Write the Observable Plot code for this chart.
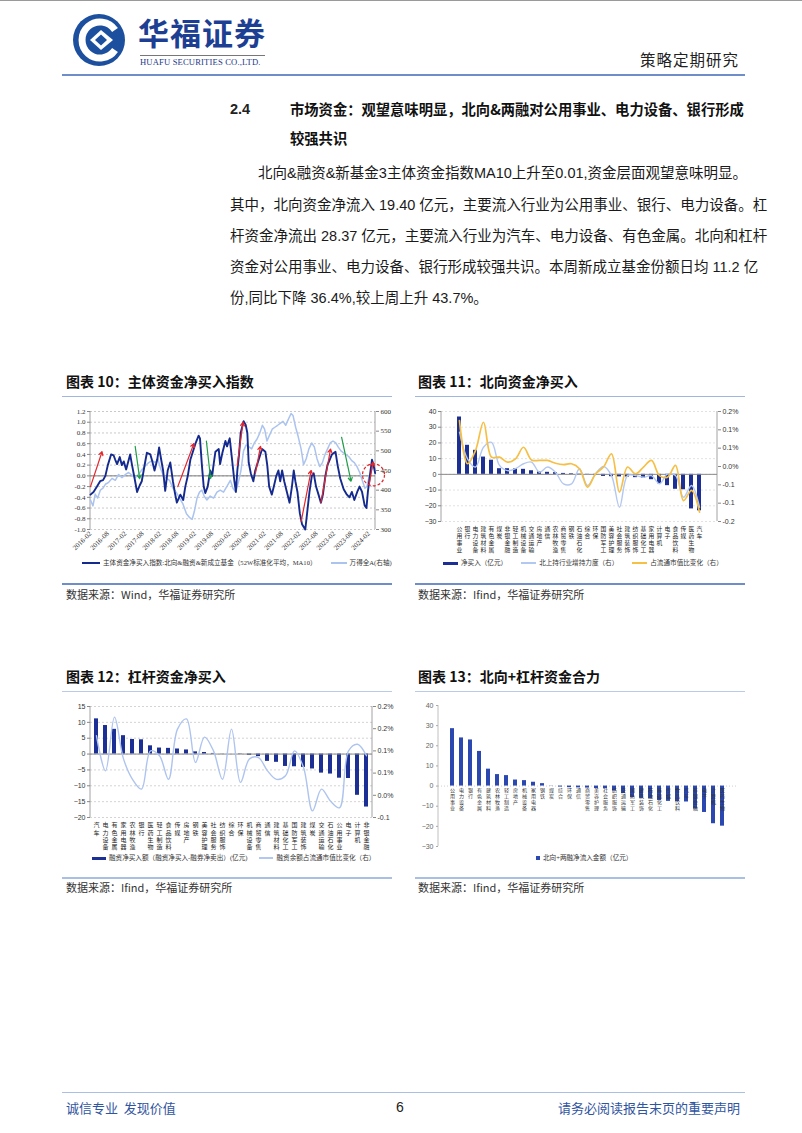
<!DOCTYPE html>
<html><head><meta charset="utf-8">
<script src="https://cdn.jsdelivr.net/npm/d3@7"></script>
<script src="https://cdn.jsdelivr.net/npm/@observablehq/plot@0.6"></script>
<style>
body{margin:0;background:#fff;}
#page{position:relative;width:802px;height:1133px;overflow:hidden;font-family:"Noto Sans CJK SC",sans-serif;color:#222;background:#fff;}
.a{position:absolute;white-space:nowrap;}
.rule{position:absolute;}
.just{position:absolute;text-align:justify;text-align-last:justify;white-space:nowrap;}
.body{font-family:"Liberation Sans Narrow","Liberation Sans","Noto Sans CJK SC",sans-serif;font-size:14.5px;line-height:20px;color:#1a1a1a;}
.ttl{font-size:14px;font-weight:700;line-height:18px;color:#111;}
.src{font-size:11px;line-height:14px;color:#333;}
.lg{font-family:"Liberation Serif","Noto Sans CJK SC",serif;font-size:6.6px;line-height:10px;color:#333;display:flex;align-items:center;}
.sw{display:inline-block;margin-right:3px;}
</style></head>
<body><div id="page">
<div class="rule" style="left:0;top:0;width:802px;height:1px;background:#9a9a9a"></div>
<svg class="a" style="left:68px;top:13px" width="62" height="54" viewBox="0 0 62 54">
  <circle cx="31" cy="27" r="26" fill="#1d4f9f"/>
  <path d="M47 17 A18 18 0 1 0 47 37" stroke="#fff" stroke-width="7" fill="none"/>
  <path d="M22 27 L33 17 L45 27 L33 37 Z" fill="#fff"/>
  <path d="M27 27 L33 21.5 L39 27 L33 32.5 Z" fill="#1d4f9f"/>
</svg>
<div class="a" style="left:138px;top:12px;font-size:31px;font-weight:700;color:#1d3f93;letter-spacing:1px;line-height:40px">华福证券</div>
<div class="rule" style="left:140px;top:55px;width:125px;height:1px;background:#777"></div>
<div class="a" style="left:140px;top:57px;font-family:'Liberation Serif',serif;font-size:8.6px;color:#23388a;line-height:10px;letter-spacing:0.15px">HUAFU SECURITIES CO.,LTD.</div>
<div class="a" style="left:640px;top:49px;font-size:15.5px;color:#222;letter-spacing:1px;line-height:20px">策略定期研究</div>
<div class="rule" style="left:62px;top:74px;width:683px;height:2px;background:#6f8dc8"></div>

<div class="a" style="left:230px;top:99px;font-family:'Liberation Sans',sans-serif;font-weight:700;font-size:14.5px;line-height:20px">2.4</div>
<div class="just ttl" style="left:290px;top:99px;width:446px;font-size:14.3px;line-height:20px">市场资金：观望意味明显，北向&amp;两融对公用事业、电力设备、银行形成</div>
<div class="a ttl" style="left:290px;top:128px;font-size:14.3px;line-height:20px">较强共识</div>

<div class="just body" style="left:258px;top:163px;width:479px">北向&amp;融资&amp;新基金3主体资金指数MA10上升至0.01,资金层面观望意味明显。</div>
<div class="just body" style="left:230px;top:195px;width:507px">其中，北向资金净流入 19.40 亿元，主要流入行业为公用事业、银行、电力设备。杠</div>
<div class="just body" style="left:230px;top:226px;width:507px">杆资金净流出 28.37 亿元，主要流入行业为汽车、电力设备、有色金属。北向和杠杆</div>
<div class="just body" style="left:230px;top:257px;width:507px">资金对公用事业、电力设备、银行形成较强共识。本周新成立基金份额日均 11.2 亿</div>
<div class="a body" style="left:230px;top:288px">份,同比下降 36.4%,较上周上升 43.7%。</div>

<div class="a ttl" style="left:66px;top:372px">图表 10：主体资金净买入指数</div>
<div class="a ttl" style="left:418px;top:372px">图表 11：北向资金净买入</div>
<div class="rule" style="left:62px;top:396px;width:330px;height:1px;background:#9fb6de"></div>
<div class="rule" style="left:415px;top:396px;width:330px;height:1px;background:#9fb6de"></div>
<div id="c10" class="a" style="left:60px;top:402px"></div>
<div id="c11" class="a" style="left:415px;top:402px"></div>
<div class="a lg" style="left:82px;top:558px"><span class="sw" style="width:18px;height:2px;background:#142a8e"></span>主体资金净买入指数:北向&amp;融资&amp;新成立基金（52W标准化平均，MA10）<span class="sw" style="width:16px;height:1.5px;background:#abc3ef;margin-left:14px"></span>万得全A(右轴)</div>
<div class="a lg" style="left:443px;top:558px"><span class="sw" style="width:15px;height:3px;background:#1b2f95"></span>净买入（亿元）<span class="sw" style="width:15px;height:1.5px;background:#b3c8f0;margin-left:14px"></span>北上持行业增持力度（右）<span class="sw" style="width:15px;height:2px;background:#f6bf45;margin-left:14px"></span>占流通市值比变化（右）</div>
<div class="rule" style="left:62px;top:583px;width:330px;height:1.5px;background:#6f8dc8"></div>
<div class="rule" style="left:415px;top:583px;width:330px;height:1.5px;background:#6f8dc8"></div>
<div class="a src" style="left:66px;top:587px">数据来源：Wind，华福证券研究所</div>
<div class="a src" style="left:418px;top:587px">数据来源：Ifind，华福证券研究所</div>

<div class="a ttl" style="left:66px;top:667px">图表 12：杠杆资金净买入</div>
<div class="a ttl" style="left:418px;top:667px">图表 13：北向+杠杆资金合力</div>
<div class="rule" style="left:62px;top:691px;width:330px;height:1px;background:#b9cbe8"></div>
<div class="rule" style="left:415px;top:691px;width:330px;height:1px;background:#b9cbe8"></div>
<div id="c12" class="a" style="left:60px;top:697px"></div>
<div id="c13" class="a" style="left:415px;top:697px"></div>
<div class="a lg" style="left:92px;top:853px"><span class="sw" style="width:14px;height:3px;background:#1b2f95"></span>融资净买入额（融资净买入-融券净卖出）(亿元)<span class="sw" style="width:14px;height:1.5px;background:#b3c8f0;margin-left:12px"></span>融资余额占流通市值比变化（右）</div>
<div class="a lg" style="left:536px;top:853px"><span class="sw" style="width:4px;height:4px;background:#2b47b0"></span>北向+两融净流入金额（亿元）</div>
<div class="rule" style="left:62px;top:877px;width:330px;height:1.5px;background:#a9bfe3"></div>
<div class="rule" style="left:415px;top:877px;width:330px;height:1.5px;background:#a9bfe3"></div>
<div class="a src" style="left:66px;top:880px">数据来源：Ifind，华福证券研究所</div>
<div class="a src" style="left:418px;top:880px">数据来源：Ifind，华福证券研究所</div>

<div class="rule" style="left:62px;top:1092px;width:683px;height:1px;background:#a9bfe3"></div>
<div class="a" style="left:66px;top:1100px;font-size:13px;color:#2f54a0;line-height:16px">诚信专业&nbsp;&nbsp;发现价值</div>
<div class="a" style="left:396px;top:1099px;font-size:14px;color:#222;line-height:17px;font-family:'Liberation Sans',sans-serif">6</div>
<div class="a" style="right:62px;top:1100px;font-size:13px;color:#2f54a0;line-height:16px">请务必阅读报告末页的重要声明</div>
</div>
<script>
// ---------- Chart 10 data ----------
const mainIndex10 = [
["2016-02-01",-0.35],["2016-03-04",-0.30],["2016-04-09",-0.20],["2016-05-12",-0.10],["2016-06-12",-0.08],
["2016-07-06",0.00],["2016-08-01",0.20],["2016-09-04",0.40],["2016-10-01",0.38],["2016-10-18",0.30],
["2016-11-06",0.22],["2016-12-04",0.35],["2016-12-26",0.20],["2017-01-15",0.27],["2017-02-09",0.12],
["2017-03-23",0.40],["2017-04-12",0.20],["2017-05-09",-0.05],["2017-06-04",-0.30],["2017-07-01",-0.18],
["2017-07-23",-0.10],["2017-08-12",0.10],["2017-09-01",0.30],["2017-09-15",0.43],["2017-10-21",0.40],
["2017-11-09",0.28],["2017-12-04",0.10],["2018-01-01",0.30],["2018-01-21",0.53],["2018-02-12",0.30],
["2018-03-04",0.10],["2018-03-26",-0.28],["2018-04-21",0.10],["2018-05-18",0.25],["2018-06-15",-0.10],
["2018-07-04",-0.30],["2018-07-26",-0.50],["2018-09-01",-0.35],["2018-10-01",-0.45],["2018-10-23",-0.20],
["2018-11-18",0.00],["2018-12-15",0.30],["2019-02-06",0.60],["2019-03-12",0.75],["2019-03-26",0.70],
["2019-04-15",0.20],["2019-05-04",-0.20],["2019-05-21",-0.32],["2019-06-15",-0.20],["2019-07-12",0.10],
["2019-08-01",0.00],["2019-08-15",0.20],["2019-09-04",0.45],["2019-10-09",0.50],["2019-10-23",0.22],
["2019-11-15",0.42],["2019-12-18",0.65],["2020-01-04",0.55],["2020-02-01",0.70],["2020-02-26",0.30],
["2020-03-21",-0.10],["2020-04-06",-0.30],["2020-04-21",0.10],["2020-05-09",0.40],["2020-05-26",0.80],
["2020-06-26",1.02],["2020-07-18",0.95],["2020-08-04",0.80],["2020-08-18",0.25],["2020-09-09",0.05],
["2020-10-06",-0.10],["2020-10-26",0.10],["2020-12-01",0.30],["2021-01-06",0.50],["2021-02-09",0.45],
["2021-03-01",0.20],["2021-03-21",-0.20],["2021-04-18",-0.35],["2021-05-09",-0.20],["2021-06-04",0.00],
["2021-06-26",0.10],["2021-07-15",-0.10],["2021-08-04",0.10],["2021-08-26",-0.10],["2021-09-23",-0.30],
["2021-10-21",-0.50],["2021-11-15",-0.20],["2021-12-04",0.10],["2021-12-21",-0.10],["2022-01-12",-0.30],
["2022-02-06",-0.70],["2022-03-01",-0.90],["2022-04-04",-1.00],["2022-04-23",-0.70],["2022-05-18",-0.30],
["2022-06-12",0.00],["2022-07-01",0.05],["2022-07-26",-0.20],["2022-08-21",-0.35],["2022-09-15",-0.50],
["2022-10-06",-0.35],["2022-11-01",0.00],["2022-11-23",0.20],["2023-01-09",0.40],["2023-02-15",0.45],
["2023-03-09",0.20],["2023-04-06",-0.05],["2023-05-12",-0.25],["2023-06-15",-0.35],["2023-07-12",-0.40],
["2023-08-06",-0.30],["2023-09-01",-0.45],["2023-10-01",-0.30],["2023-10-26",-0.20],["2023-11-21",-0.30],
["2023-12-18",-0.55],["2024-01-06",-0.60],["2024-01-21",-0.30],["2024-02-18",0.10],["2024-03-04",0.30],
["2024-03-21",0.20],["2024-04-06",0.05]
];
const windA10 = [
["2016-02-01",375],["2016-02-27",360],["2016-03-21",390],["2016-04-16",380],["2016-05-14",400],
["2016-06-11",405],["2016-07-06",415],["2016-08-10",420],["2016-09-14",430],["2016-10-18",425],
["2016-11-22",440],["2016-12-27",432],["2017-02-03",440],["2017-03-07",445],["2017-04-11",438],
["2017-05-15",432],["2017-06-20",440],["2017-07-24",452],["2017-08-28",462],["2017-10-04",470],
["2017-11-08",475],["2017-12-12",470],["2018-01-07",480],["2018-02-05",455],["2018-03-03",440],
["2018-04-07",430],["2018-05-11",425],["2018-06-15",405],["2018-07-19",395],["2018-08-23",380],
["2018-09-28",365],["2018-11-04",340],["2018-12-08",330],["2019-01-03",326],["2019-01-25",345],
["2019-02-23",380],["2019-03-21",395],["2019-04-15",400],["2019-05-09",385],["2019-06-07",375],
["2019-07-11",385],["2019-08-16",380],["2019-09-20",395],["2019-10-24",400],["2019-11-28",395],
["2020-01-04",410],["2020-02-08",425],["2020-03-06",405],["2020-04-04",395],["2020-05-02",420],
["2020-05-29",450],["2020-06-25",500],["2020-07-23",515],["2020-08-21",510],["2020-09-18",505],
["2020-10-16",520],["2020-11-14",530],["2020-12-12",545],["2021-01-09",565],["2021-02-01",555],
["2021-02-26",525],["2021-03-25",540],["2021-04-22",555],["2021-05-20",560],["2021-06-18",565],
["2021-07-15",570],["2021-08-13",575],["2021-09-11",565],["2021-10-08",580],["2021-11-06",595],
["2021-11-26",590],["2021-12-24",560],["2022-01-21",535],["2022-02-19",505],["2022-03-17",465],
["2022-04-14",480],["2022-05-12",505],["2022-06-10",520],["2022-07-08",510],["2022-08-05",480],
["2022-09-03",460],["2022-10-01",470],["2022-10-27",490],["2022-11-24",505],["2022-12-22",520],
["2023-01-20",525],["2023-02-18",520],["2023-03-15",510],["2023-04-13",500],["2023-05-11",495],
["2023-06-08",490],["2023-07-06",485],["2023-08-04",475],["2023-09-01",470],["2023-09-29",460],
["2023-10-27",445],["2023-11-23",425],["2023-12-21",405],["2024-01-12",410],["2024-02-03",435],
["2024-02-23",450],["2024-03-15",458],["2024-04-05",455]
];
const xRange10 = ["2016-02-01","2024-04-10"];
const xTicks10 = ["2016-02-01","2016-08-01","2017-02-01","2017-08-01","2018-02-01","2018-08-01","2019-02-01","2019-08-01","2020-02-01","2020-08-01","2021-02-01","2021-08-01","2022-02-01","2022-08-01","2023-02-01","2023-08-01","2024-02-01"];
const leftTicks10 = [-1.0,-0.8,-0.6,-0.4,-0.2,0,0.2,0.4,0.6,0.8,1.0,1.2];
const rightTicks10 = [300,350,400,450,500,550,600];
const arrowsUp10 = [
["2016-02-01",-0.2,"2016-06-01",0.45],["2018-08-05",-0.2,"2019-01-20",0.6],["2020-04-20",0.2,"2020-06-20",1.0],
["2020-10-28",0.05,"2020-12-20",0.55],["2022-02-20",-0.85,"2022-06-05",0.1],["2022-09-15",-0.5,"2022-12-25",0.5],
["2024-02-05",-0.15,"2024-03-15",0.25]
];
const arrowsDown10 = [
["2017-05-15",0.55,"2017-07-01",-0.05],["2019-06-01",0.65,"2019-07-15",-0.05],["2023-04-20",0.72,"2023-07-28",-0.1]
];
const circle10 = [["2024-03-20",0.02]];

// ---------- Chart 11 data ----------
const cats11 = ["公用事业","银行","电力设备","建筑材料","有色金属","煤炭","非银金融","轻工制造","机械设备","交通运输","房地产","通信","农林牧渔","商贸零售","钢铁","石油石化","综合","环保","国防军工","美容护理","社会服务","建筑装饰","纺织服饰","基础化工","家用电器","计算机","电子","食品饮料","传媒","医药生物","汽车"];
const north11 = [36.5,18.5,15.3,11.0,9.0,3.6,3.6,3.5,3.2,2.3,1.5,1.3,1.1,0.6,0.4,0.2,-0.1,-0.4,-1.3,-1.5,-1.6,-1.7,-2.1,-2.5,-3.4,-6.0,-7.2,-9.5,-9.8,-22.0,-23.2];
const holdStrength11 = [0.125,0.028,-0.002,0.070,0.088,0.004,-0.015,-0.008,0.010,0.016,-0.021,-0.002,-0.021,-0.063,-0.063,-0.008,-0.069,-0.027,0.000,-0.033,-0.148,-0.033,-0.033,-0.039,-0.033,-0.063,-0.027,-0.033,-0.112,-0.069,-0.148];
const shareChange11 = [0.167,0.010,0.058,0.161,0.034,0.034,0.016,0.028,0.070,0.024,0.022,0.022,0.012,0.007,0.010,-0.008,-0.075,-0.027,-0.002,0.046,-0.093,-0.002,-0.027,-0.002,0.022,-0.033,-0.039,0.004,-0.124,-0.087,-0.166];
const leftTicks11 = [-30,-20,-10,0,10,20,30,40];
const rightTicks11 = [-0.2,-0.1333,-0.0667,0,0.0667,0.1333,0.2];
const rightLabels11 = ["-0.2","-0.1","-0.1","0.0%","0.1%","0.1%","0.2%"];

// ---------- Chart 12 data ----------
const cats12 = ["汽车","电力设备","有色金属","家用电器","农林牧渔","银行","医药生物","轻工制造","食品饮料","传媒","房地产","钢铁","美容护理","社会服务","纺织服饰","综合","环保","机械设备","商贸零售","通信","建筑材料","基础化工","国防军工","建筑装饰","煤炭","交通运输","石油石化","公用事业","电子","计算机","非银金融"];
const margin12 = [11.1,9.0,7.8,5.8,4.6,4.5,2.6,1.9,1.8,1.6,1.3,0.7,0.5,0.2,0.05,0.0,-0.1,-0.4,-0.8,-2.3,-2.6,-3.9,-4.0,-4.2,-4.7,-6.0,-6.3,-7.6,-7.7,-13.0,-16.7];
const ratio12 = [0.134,0.055,0.176,0.082,0.036,0.014,0.100,0.089,0.036,0.149,0.172,0.074,0.131,0.100,0.036,0.149,0.029,0.082,0.085,0.055,0.036,0.044,0.100,0.063,-0.035,0.014,-0.013,-0.028,0.100,0.115,0.089];
const leftTicks12 = [-20,-15,-10,-5,0,5,10,15];
const rightTicks12 = [-0.05,0,0.05,0.1,0.15,0.2];
const rightLabels12 = ["-0.1","0.0%","0.1%","0.1%","0.2%","0.2%"];

// ---------- Chart 13 data ----------
const cats13 = ["公用事业","电力设备","银行","有色金属","建筑材料","农林牧渔","轻工制造","房地产","机械设备","家用电器","钢铁","煤炭","综合","环保","通信","商贸零售","美容护理","社会服务","纺织服饰","交通运输","国防军工","建筑装饰","石油石化","基础化工","传媒","食品饮料","汽车","非银金融","电子","计算机","医药生物"];
const combined13 = [28.5,23.9,22.9,17.2,8.4,5.7,5.2,3.0,2.7,1.9,1.2,-0.1,-0.5,-0.8,-0.9,-1.0,-1.2,-1.3,-2.5,-3.7,-5.7,-6.1,-6.3,-7.2,-7.6,-7.7,-7.9,-11.4,-13.1,-18.7,-19.9];
const leftTicks13 = [-30,-20,-10,0,10,20,30,40];

// ---------- helpers ----------
const SERIF = "'Liberation Serif','Noto Sans CJK SC',serif";
const SANS = "'Liberation Sans','Noto Sans CJK SC',sans-serif";
const CJK = "'Noto Sans CJK SC',sans-serif";
function sideLines(sides, color) {
  return (index, scales, values, dims) => {
    const g = d3.create("svg:g");
    for (const s of sides) {
      const x = s === "left" ? dims.marginLeft : dims.width - dims.marginRight;
      g.append("line").attr("x1", x).attr("x2", x)
        .attr("y1", dims.marginTop).attr("y2", dims.height - dims.marginBottom)
        .attr("stroke", color).attr("stroke-width", 0.8);
    }
    return g.node();
  };
}
const vert = s => s.split("").join("\n");

// ---------- Chart 10 ----------
{
  const toL = d3.scaleLinear([300, 600], [-1, 1.2]);
  const main = mainIndex10.map(([d, v]) => ({date: new Date(d), v}));
  const wda = windA10.map(([d, v]) => ({date: new Date(d), v: toL(v)}));
  const arr = a => a.map(([a1, b1, a2, b2]) => ({x1: new Date(a1), y1: b1, x2: new Date(a2), y2: b2}));
  const circ = circle10.map(([d, v]) => ({date: new Date(d), v}));
  const dom = xRange10.map(d => new Date(d));
  const chart = Plot.plot({
    width: 340, height: 152, marginLeft: 30, marginRight: 25, marginTop: 9, marginBottom: 25,
    style: {fontFamily: SERIF, fontSize: "7px", color: "#333", background: "transparent", overflow: "visible"},
    x: {type: "utc", domain: dom, label: null},
    y: {domain: [-1, 1.2], label: null},
    marks: [
      Plot.ruleY(leftTicks10, {stroke: "#c9c9c9", strokeDasharray: "2,2"}),
      Plot.ruleY([0], {stroke: "#7a7a7a", strokeWidth: 1}),
      sideLines(["left", "right"], "#8a8a8a"),
      Plot.line(wda, {x: "date", y: "v", stroke: "#abc3ef", strokeWidth: 1.5}),
      Plot.line(main, {x: "date", y: "v", stroke: "#142a8e", strokeWidth: 1.9}),
      Plot.arrow(arr(arrowsUp10), {x1: "x1", y1: "y1", x2: "x2", y2: "y2", stroke: "#e5262a", strokeWidth: 1.2, headLength: 5}),
      Plot.arrow(arr(arrowsDown10), {x1: "x1", y1: "y1", x2: "x2", y2: "y2", stroke: "#1f9e48", strokeWidth: 1.2, headLength: 5}),
      Plot.dot(circ, {x: "date", y: "v", r: 11, stroke: "#e5262a", strokeDasharray: "3,2", strokeWidth: 1.2, fill: "none"}),
      Plot.axisY(leftTicks10, {anchor: "left", label: null, tickSize: 3, tickPadding: 2, stroke: "#888", tickFormat: d => d.toFixed(1), fontFamily: SERIF, fontSize: 7}),
      Plot.axisY(rightTicks10.map(toL), {anchor: "right", label: null, tickSize: 3, tickPadding: 2, stroke: "#888", tickFormat: d => Math.round(toL.invert(d)), fontFamily: SERIF, fontSize: 7}),
      Plot.axisX(xTicks10.map(d => new Date(d)), {label: null, tickRotate: -45, tickSize: 0, tickPadding: 3, tickFormat: d3.utcFormat("%Y-%m"), fontFamily: SERIF, fontSize: 7})
    ]
  });
  document.getElementById("c10").append(chart);
}

// ---------- Chart 11 ----------
{
  const toL = r => -30 + (r + 0.2) / 0.4 * 70;
  const rows = cats11.map((c, i) => ({c, v: north11[i], h: toL(holdStrength11[i]), s: toL(shareChange11[i])}));
  const fmt = new Map(rightTicks11.map((t, i) => [toL(t), rightLabels11[i]]));
  const chart = Plot.plot({
    width: 330, height: 154, marginLeft: 26, marginRight: 28, marginTop: 9, marginBottom: 35,
    style: {fontFamily: SANS, fontSize: "7px", color: "#333", background: "transparent", overflow: "visible"},
    x: {type: "band", domain: cats11, paddingInner: 0.55, paddingOuter: 0.28, label: null},
    y: {domain: [-30, 40], label: null},
    marks: [
      Plot.ruleY(leftTicks11, {stroke: "#e2e2e2", strokeDasharray: "2,2"}),
      sideLines(["left", "right"], "#8a8a8a"),
      Plot.barY(rows, {x: "c", y: "v", fill: "#1b2f95"}),
      Plot.ruleY([0], {stroke: "#8a8a8a"}),
      Plot.line(rows, {x: "c", y: "h", stroke: "#b3c8f0", strokeWidth: 1.4, curve: "catmull-rom"}),
      Plot.line(rows, {x: "c", y: "s", stroke: "#f6bf45", strokeWidth: 1.7, curve: "catmull-rom"}),
      Plot.axisY(leftTicks11, {anchor: "left", label: null, tickSize: 3, tickPadding: 2, stroke: "#888", fontFamily: SANS, fontSize: 7}),
      Plot.axisY(rightTicks11.map(toL), {anchor: "right", label: null, tickSize: 3, tickPadding: 2, stroke: "#888", tickFormat: d => fmt.get(d), fontFamily: SANS, fontSize: 7}),
      Plot.axisX({label: null, tickSize: 0, tickPadding: 5, tickFormat: vert, fontFamily: CJK, fontSize: 5.8, lineHeight: 1.2, fill: "#222"})
    ]
  });
  document.getElementById("c11").append(chart);
}

// ---------- Chart 12 ----------
{
  const toL = r => -20 + (r + 0.05) / 0.25 * 35;
  const rows = cats12.map((c, i) => ({c, v: margin12[i], r: toL(ratio12[i])}));
  const fmt = new Map(rightTicks12.map((t, i) => [toL(t), rightLabels12[i]]));
  const chart = Plot.plot({
    width: 340, height: 152, marginLeft: 30, marginRight: 28, marginTop: 9, marginBottom: 32,
    style: {fontFamily: SANS, fontSize: "7px", color: "#333", background: "transparent", overflow: "visible"},
    x: {type: "band", domain: cats12, paddingInner: 0.55, paddingOuter: 0.25, label: null},
    y: {domain: [-20, 15], label: null},
    marks: [
      Plot.ruleY(leftTicks12, {stroke: "#d4d4d4", strokeDasharray: "2,2"}),
      sideLines(["left", "right"], "#8a8a8a"),
      Plot.barY(rows, {x: "c", y: "v", fill: "#1b2f95"}),
      Plot.ruleY([0], {stroke: "#8a8a8a"}),
      Plot.line(rows, {x: "c", y: "r", stroke: "#aec4ef", strokeWidth: 1.4, curve: "catmull-rom"}),
      Plot.axisY(leftTicks12, {anchor: "left", label: null, tickSize: 3, tickPadding: 2, stroke: "#888", fontFamily: SANS, fontSize: 7}),
      Plot.axisY(rightTicks12.map(toL), {anchor: "right", label: null, tickSize: 3, tickPadding: 2, stroke: "#888", tickFormat: d => fmt.get(d), fontFamily: SANS, fontSize: 7}),
      Plot.axisX({label: null, tickSize: 0, tickPadding: 5, tickFormat: vert, fontFamily: CJK, fontSize: 6, lineHeight: 1.17, fill: "#222"})
    ]
  });
  document.getElementById("c12").append(chart);
}

// ---------- Chart 13 ----------
{
  const rows = cats13.map((c, i) => ({c, v: combined13[i]}));
  const chart = Plot.plot({
    width: 330, height: 155, marginLeft: 23, marginRight: 9, marginTop: 8, marginBottom: 6,
    style: {fontFamily: SANS, fontSize: "7px", color: "#666", background: "transparent", overflow: "visible"},
    x: {type: "band", domain: cats13, paddingInner: 0.52, paddingOuter: 0.25, axis: null, label: null},
    y: {domain: [-30, 40], label: null, axis: null},
    marks: [
      Plot.ruleY([0], {stroke: "#cfcfcf", strokeDasharray: "1,2"}),
      sideLines(["left"], "#b0b0b0"),
      Plot.barY(rows, {x: "c", y: "v", fill: "#2b47b0"}),
      Plot.text(rows, {x: "c", y: () => 0, text: d => vert(d.c), lineAnchor: "top", dy: 2, fontSize: 5, lineHeight: 1.2, fill: "#333", fontFamily: CJK}),
      Plot.axisY(leftTicks13, {anchor: "left", label: null, tickSize: 2, tickPadding: 3, stroke: "#aaa", fontFamily: SANS, fontSize: 7})
    ]
  });
  document.getElementById("c13").append(chart);
}
</script>
</body></html>
